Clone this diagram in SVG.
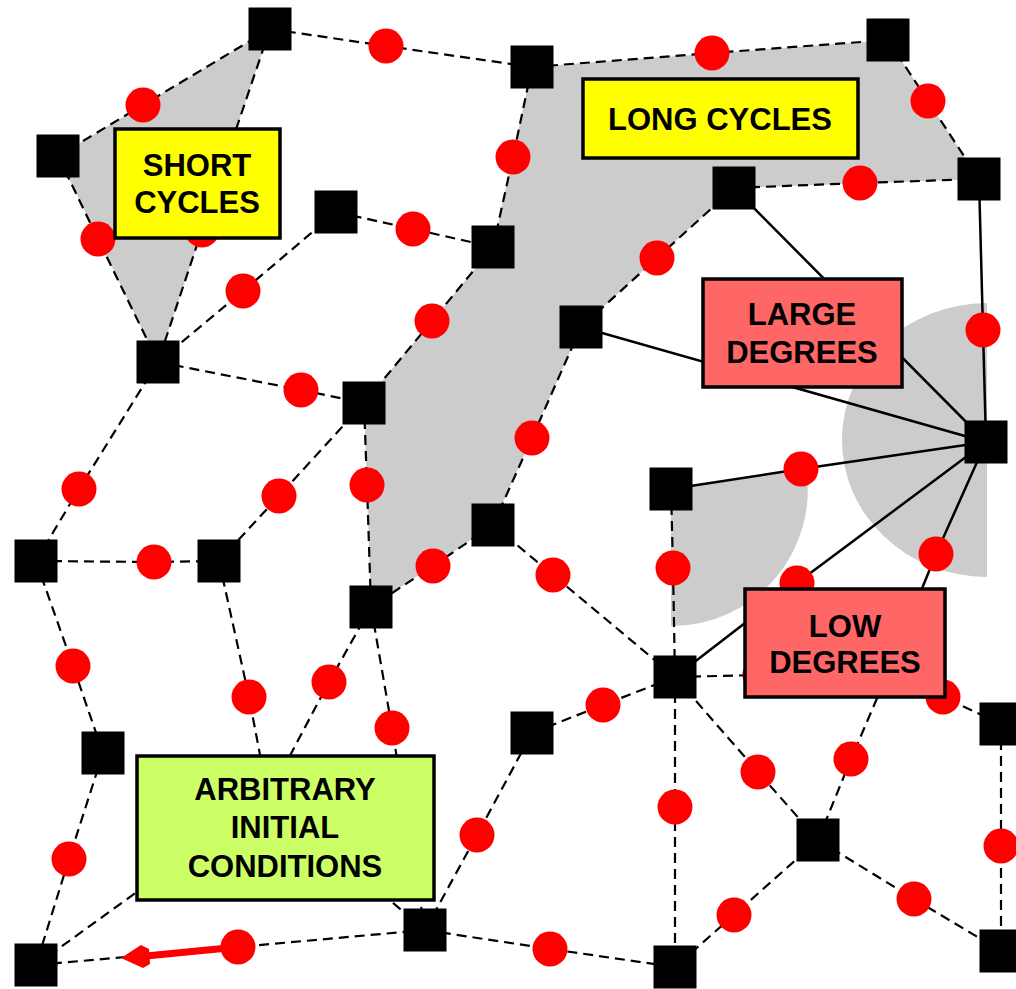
<svg xmlns="http://www.w3.org/2000/svg" width="1016" height="989" viewBox="0 0 1016 989">
  <style>
    .region { fill: #cccccc; stroke: none; }
    .dash { fill: none; stroke: #000; stroke-width: 2.2; stroke-dasharray: 10 6; }
    .solid { fill: none; stroke: #000; stroke-width: 2.5; }
    .fac { fill: #000; }
    .var { fill: #ff0000; }
    .box { stroke: #000; stroke-width: 3.5; }
    .yellow { fill: #ffff00; }
    .salmon { fill: #ff6666; }
    .lime { fill: #ccff66; }
    .lbl { font-family: "Liberation Sans", Arial, Helvetica, sans-serif; font-weight: bold; font-size: 31px; fill: #000; text-anchor: middle; }
  </style>
  <defs>
    <rect id="sq" x="-21.5" y="-21.5" width="43" height="43" class="fac"/>
    <circle id="dot" r="17.5" class="var"/>
  </defs>

  <rect width="1016" height="989" fill="#ffffff"/>

  <!-- shaded regions -->
  <g id="regions">
    <polygon class="region" points="58,156 270,29 158,362"/>
    <polygon class="region" points="532,67 888,40 979,179 734,188 581,327 493,525 371,607 364,403 493,247"/>
    <path class="region" d="M987,303 A145,137 0 0 0 987,577 Z"/>
    <path class="region" d="M671,489 L806,468 A136,136 0 0 1 671,626 Z"/>
  </g>

  <!-- connectors -->
  <g id="connectors">
    <polyline class="dash" points="270,29 143,105 58,156"/>
    <polyline class="dash" points="58,156 98,239 158,362"/>
    <polyline class="dash" points="270,29 202,230 158,362"/>
    <polyline class="dash" points="270,29 386,46 532,67"/>
    <polyline class="dash" points="532,67 712,53 888,40"/>
    <polyline class="dash" points="888,40 928,101 979,179"/>
    <polyline class="dash" points="532,67 513,157 493,247"/>
    <polyline class="dash" points="336,212 413,229 493,247"/>
    <polyline class="dash" points="336,212 243,291 158,362"/>
    <polyline class="dash" points="734,188 860,183 979,179"/>
    <polyline class="dash" points="734,188 657,258 581,327"/>
    <polyline class="dash" points="493,247 432,321 364,403"/>
    <polyline class="dash" points="158,362 301,390 364,403"/>
    <polyline class="dash" points="581,327 532,438 493,525"/>
    <polyline class="dash" points="364,403 367,485 371,607"/>
    <polyline class="dash" points="364,403 279,496 219,561"/>
    <polyline class="dash" points="158,362 79,489 36,561"/>
    <polyline class="dash" points="36,561 154,562 219,561"/>
    <polyline class="dash" points="493,525 433,566 371,607"/>
    <polyline class="dash" points="493,525 553,575 675,677"/>
    <polyline class="dash" points="671,489 673,568 675,677"/>
    <polyline class="dash" points="36,561 73,666 103,753"/>
    <polyline class="dash" points="103,753 69,859 36,965"/>
    <polyline class="dash" points="219,561 249,697 268,797"/>
    <polyline class="dash" points="371,607 329,682 268,797"/>
    <polyline class="dash" points="371,607 392,728 425,930"/>
    <polyline class="dash" points="36,965 268,797"/>
    <polyline class="dash" points="36,965 238,947 425,930"/>
    <polyline class="dash" points="425,930 268,797"/>
    <polyline class="dash" points="425,930 550,949 675,967"/>
    <polyline class="dash" points="425,930 477,835 532,733"/>
    <polyline class="dash" points="532,733 603,705 675,677"/>
    <polyline class="dash" points="675,677 675,807 675,967"/>
    <polyline class="dash" points="675,677 758,772 818,840"/>
    <polyline class="dash" points="818,840 734,915 675,967"/>
    <polyline class="dash" points="818,840 914,899 1001,951"/>
    <polyline class="dash" points="1001,724 1001,846 1001,951"/>
    <polyline class="dash" points="818,840 851,759 887,675"/>
    <polyline class="dash" points="1001,724 943,697 887,675"/>
    <polyline class="dash" points="675,677 760,675 887,675"/>

    <polyline class="solid" points="979,179 983,330 986,442"/>
    <polyline class="solid" points="734,188 986,442"/>
    <polyline class="solid" points="581,327 986,442"/>
    <polyline class="solid" points="671,489 801,469 986,442"/>
    <polyline class="solid" points="675,677 797,583 986,442"/>
    <polyline class="solid" points="986,442 936,554 887,675"/>
  </g>

  <!-- variable nodes -->
  <g id="v1"><use href="#dot" x="143" y="105"/></g>
  <g id="v2"><use href="#dot" x="98" y="239"/></g>
  <g id="v3"><use href="#dot" x="202" y="230"/></g>
  <g id="v4"><use href="#dot" x="243" y="291"/></g>
  <g id="v5"><use href="#dot" x="386" y="46"/></g>
  <g id="v6"><use href="#dot" x="712" y="53"/></g>
  <g id="v7"><use href="#dot" x="928" y="101"/></g>
  <g id="v8"><use href="#dot" x="513" y="157"/></g>
  <g id="v9"><use href="#dot" x="413" y="229"/></g>
  <g id="v10"><use href="#dot" x="860" y="183"/></g>
  <g id="v11"><use href="#dot" x="657" y="258"/></g>
  <g id="v12"><use href="#dot" x="432" y="321"/></g>
  <g id="v13"><use href="#dot" x="301" y="390"/></g>
  <g id="v14"><use href="#dot" x="983" y="330"/></g>
  <g id="v15"><use href="#dot" x="532" y="438"/></g>
  <g id="v16"><use href="#dot" x="367" y="485"/></g>
  <g id="v17"><use href="#dot" x="279" y="496"/></g>
  <g id="v18"><use href="#dot" x="79" y="489"/></g>
  <g id="v19"><use href="#dot" x="801" y="469"/></g>
  <g id="v20"><use href="#dot" x="154" y="562"/></g>
  <g id="v21"><use href="#dot" x="433" y="566"/></g>
  <g id="v22"><use href="#dot" x="553" y="575"/></g>
  <g id="v23"><use href="#dot" x="673" y="568"/></g>
  <g id="v24"><use href="#dot" x="936" y="554"/></g>
  <g id="v25"><use href="#dot" x="797" y="583"/></g>
  <g id="v26"><use href="#dot" x="760" y="675"/></g>
  <g id="v27"><use href="#dot" x="73" y="666"/></g>
  <g id="v28"><use href="#dot" x="249" y="697"/></g>
  <g id="v29"><use href="#dot" x="329" y="682"/></g>
  <g id="v30"><use href="#dot" x="392" y="728"/></g>
  <g id="v31"><use href="#dot" x="943" y="697"/></g>
  <g id="v32"><use href="#dot" x="603" y="705"/></g>
  <g id="v33"><use href="#dot" x="758" y="772"/></g>
  <g id="v34"><use href="#dot" x="851" y="759"/></g>
  <g id="v35"><use href="#dot" x="675" y="807"/></g>
  <g id="v36"><use href="#dot" x="477" y="835"/></g>
  <g id="v37"><use href="#dot" x="1001" y="846"/></g>
  <g id="v38"><use href="#dot" x="69" y="859"/></g>
  <g id="v39"><use href="#dot" x="734" y="915"/></g>
  <g id="v40"><use href="#dot" x="914" y="899"/></g>
  <g id="v41"><use href="#dot" x="238" y="947"/></g>
  <g id="v42"><use href="#dot" x="550" y="949"/></g>

  <!-- message arrow leaving v41 -->
  <g id="message">
    <line x1="238" y1="947" x2="146" y2="956" stroke="#ff0000" stroke-width="7"/>
    <polygon points="121,958 141,945 149,949 150,964 143,968" fill="#ff0000"/>
  </g>

  <!-- factor nodes -->
  <g id="f1"><use href="#sq" x="270" y="29"/></g>
  <g id="f2"><use href="#sq" x="532" y="67"/></g>
  <g id="f3"><use href="#sq" x="888" y="40"/></g>
  <g id="f4"><use href="#sq" x="58" y="156"/></g>
  <g id="f5"><use href="#sq" x="979" y="179"/></g>
  <g id="f6"><use href="#sq" x="734" y="188"/></g>
  <g id="f7"><use href="#sq" x="336" y="212"/></g>
  <g id="f8"><use href="#sq" x="493" y="247"/></g>
  <g id="f9"><use href="#sq" x="581" y="327"/></g>
  <g id="f10"><use href="#sq" x="158" y="362"/></g>
  <g id="f11"><use href="#sq" x="364" y="403"/></g>
  <g id="f12"><use href="#sq" x="986" y="442"/></g>
  <g id="f13"><use href="#sq" x="671" y="489"/></g>
  <g id="f14"><use href="#sq" x="493" y="525"/></g>
  <g id="f15"><use href="#sq" x="36" y="561"/></g>
  <g id="f16"><use href="#sq" x="219" y="561"/></g>
  <g id="f17"><use href="#sq" x="371" y="607"/></g>
  <g id="f18"><use href="#sq" x="675" y="677"/></g>
  <g id="f19"><use href="#sq" x="1001" y="724"/></g>
  <g id="f20"><use href="#sq" x="532" y="733"/></g>
  <g id="f21"><use href="#sq" x="103" y="753"/></g>
  <g id="f22"><use href="#sq" x="818" y="840"/></g>
  <g id="f23"><use href="#sq" x="425" y="930"/></g>
  <g id="f24"><use href="#sq" x="36" y="965"/></g>
  <g id="f25"><use href="#sq" x="675" y="967"/></g>
  <g id="f26"><use href="#sq" x="1001" y="951"/></g>

  <!-- annotation boxes -->
  <g id="short-cycles">
    <rect class="box yellow" x="115" y="129" width="165" height="109"/>
    <text class="lbl" x="197" y="176">SHORT</text>
    <text class="lbl" x="197" y="213">CYCLES</text>
  </g>
  <g id="long-cycles">
    <rect class="box yellow" x="583" y="79" width="275" height="79"/>
    <text class="lbl" x="720" y="130">LONG CYCLES</text>
  </g>
  <g id="large-degrees">
    <rect class="box salmon" x="703" y="279" width="199" height="108"/>
    <text class="lbl" x="802" y="325">LARGE</text>
    <text class="lbl" x="802" y="363">DEGREES</text>
  </g>
  <g id="low-degrees">
    <rect class="box salmon" x="745" y="589" width="200" height="108"/>
    <text class="lbl" x="845" y="637">LOW</text>
    <text class="lbl" x="845" y="673">DEGREES</text>
  </g>
  <g id="initial-conditions">
    <rect class="box lime" x="137" y="756" width="297" height="144"/>
    <text class="lbl" x="285" y="800">ARBITRARY</text>
    <text class="lbl" x="285" y="838">INITIAL</text>
    <text class="lbl" x="285" y="877">CONDITIONS</text>
  </g>
</svg>
